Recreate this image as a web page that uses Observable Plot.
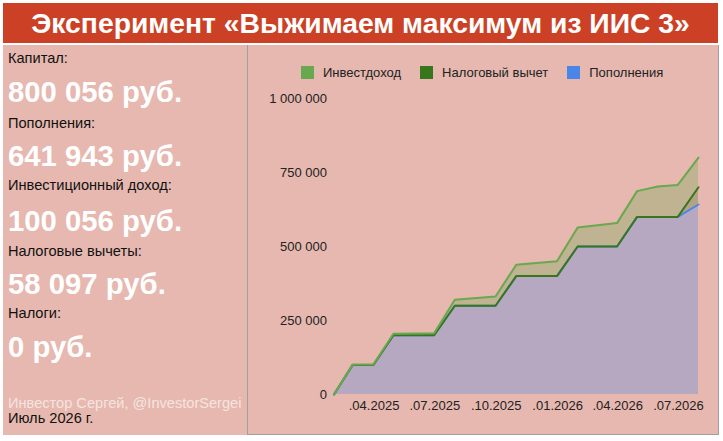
<!DOCTYPE html>
<html><head><meta charset="utf-8">
<script src="https://cdn.jsdelivr.net/npm/d3@7"></script>
<script src="https://cdn.jsdelivr.net/npm/@observablehq/plot@0.6"></script>
<style>
html,body{margin:0;padding:0;background:#fff;}
body{width:723px;height:441px;position:relative;overflow:hidden;font-family:Arial,"Liberation Sans",sans-serif;}
#title{position:absolute;left:3px;top:3px;width:715px;height:40px;background:#cc4125;color:#fff;font-weight:bold;font-size:28.3px;line-height:40px;text-align:center;white-space:nowrap;}
#left{position:absolute;left:3px;top:45px;width:244px;height:390px;background:#e6b8af;}
#chart{position:absolute;left:247px;top:45px;width:470px;height:389px;background:#e6b8af;border-left:1px solid #a0a0a0;border-right:1px solid #a0a0a0;border-bottom:1px solid #a0a0a0;}
#chart svg{position:absolute;left:0;top:0;}
.t{position:absolute;left:5px;white-space:nowrap;line-height:1;}
.s{font-size:14.6px;color:#111;}
.b{font-size:29.3px;color:#fff;font-weight:bold;}
.a{font-size:14.6px;color:#f6e4e0;}
#legend{position:absolute;top:20px;left:53px;display:flex;align-items:center;font-size:13px;color:#222;}
#legend .it{display:flex;align-items:center;margin-right:19px;}
#legend .sw{width:13px;height:13px;margin-right:9px;}
</style></head>
<body>
<div id="title">Эксперимент «Выжимаем максимум из ИИС 3»</div>
<div id="left"></div>
<div id="chart"><div id="legend"></div></div>
<script>
// ---- data ----
const dates = ["2025-01-31","2025-02-28","2025-03-31","2025-04-30","2025-06-30","2025-07-31","2025-09-30","2025-10-31","2025-12-31","2026-01-31","2026-03-31","2026-04-30","2026-05-31","2026-06-30","2026-07-31"];
const deposits   = [0,100000,100000,200000,200000,300000,300000,400000,400000,500000,500000,600000,600000,600000,641943];
const deductions = [0,0,0,0,0,0,0,0,0,0,0,0,0,0,58097];
const income     = [0,1000,1500,5000,7000,20000,31000,38000,50000,64000,79000,87000,103000,108000,100056];
const seriesNames = ["Пополнения","Налоговый вычет","Инвестдоход"];
const seriesColors = ["#4a86e8","#38761d","#6aa84f"];
const legendOrder = ["Инвестдоход","Налоговый вычет","Пополнения"];
const yTicks = [0,250000,500000,750000,1000000];
const yTickLabels = ["0","250 000","500 000","750 000","1 000 000"];
const xTicks = ["2025-04-01","2025-07-01","2025-10-01","2026-01-01","2026-04-01","2026-07-01"];
const xTickLabels = [".04.2025",".07.2025",".10.2025",".01.2026",".04.2026",".07.2026"];
const summaryLabels = ["Капитал:","Пополнения:","Инвестиционный доход:","Налоговые вычеты:","Налоги:"];
const summaryValues = ["800 056 руб.","641 943 руб.","100 056 руб.","58 097 руб.","0 руб."];
const author = "Инвестор Сергей, @InvestorSergei";
const period = "Июль 2026 г.";

// ---- left panel ----
const left = document.getElementById("left");
const smallTops = [5.6,70.6,133.3,199.3,261];
const bigTops = [31.9,96.2,160.9,223.5,286.9];
summaryLabels.forEach((l,i)=>{
  const a=document.createElement("div");a.className="t s";a.style.top=smallTops[i]+"px";a.textContent=l;left.appendChild(a);
  const b=document.createElement("div");b.className="t b";b.style.top=bigTops[i]+"px";b.textContent=summaryValues[i];left.appendChild(b);
});
const au=document.createElement("div");au.className="t a";au.style.top="351px";au.textContent=author;left.appendChild(au);
const pe=document.createElement("div");pe.className="t s";pe.style.top="366px";pe.textContent=period;left.appendChild(pe);

// ---- legend ----
const lg=document.getElementById("legend");
legendOrder.forEach(n=>{
  const it=document.createElement("div");it.className="it";
  const sw=document.createElement("div");sw.className="sw";sw.style.background=seriesColors[seriesNames.indexOf(n)];
  const tx=document.createElement("span");tx.textContent=n;
  it.appendChild(sw);it.appendChild(tx);lg.appendChild(it);
});

// ---- chart ----
const parse = d3.utcParse("%Y-%m-%d");
const rows = [];
const vals = [deposits,deductions,income];
seriesNames.forEach((s,k)=>dates.forEach((d,i)=>rows.push({date:parse(d),value:vals[k][i],series:s})));
const xt = xTicks.map(parse);

const chart = Plot.plot({
  width:470, height:389,
  marginLeft:85.5, marginRight:20, marginTop:53, marginBottom:40,
  style:{fontFamily:"Arial, 'Liberation Sans', sans-serif",fontSize:"13px",color:"#222",background:"transparent",overflow:"visible"},
  x:{type:"utc",domain:[parse(dates[0]),parse(dates[dates.length-1])]},
  y:{domain:[0,1000000]},
  color:{domain:seriesNames,range:seriesColors},
  marks:[
    Plot.areaY(rows,Plot.stackY({x:"date",y:"value",z:"series",fill:"series",fillOpacity:0.3,order:null})),
    Plot.lineY(rows,Plot.stackY2({x:"date",y:"value",z:"series",stroke:"series",strokeWidth:2,order:null})),
    Plot.axisY({ticks:yTicks,tickFormat:(d)=>yTickLabels[yTicks.indexOf(d)],tickSize:0,tickPadding:7,label:null,fill:"#222"}),
    Plot.axisX({ticks:xt,tickFormat:(d)=>xTickLabels[xt.findIndex(t=>+t===+d)],tickSize:0,tickPadding:6,label:null,fill:"#222"})
  ]
});
document.getElementById("chart").appendChild(chart);
</script>
</body></html>
